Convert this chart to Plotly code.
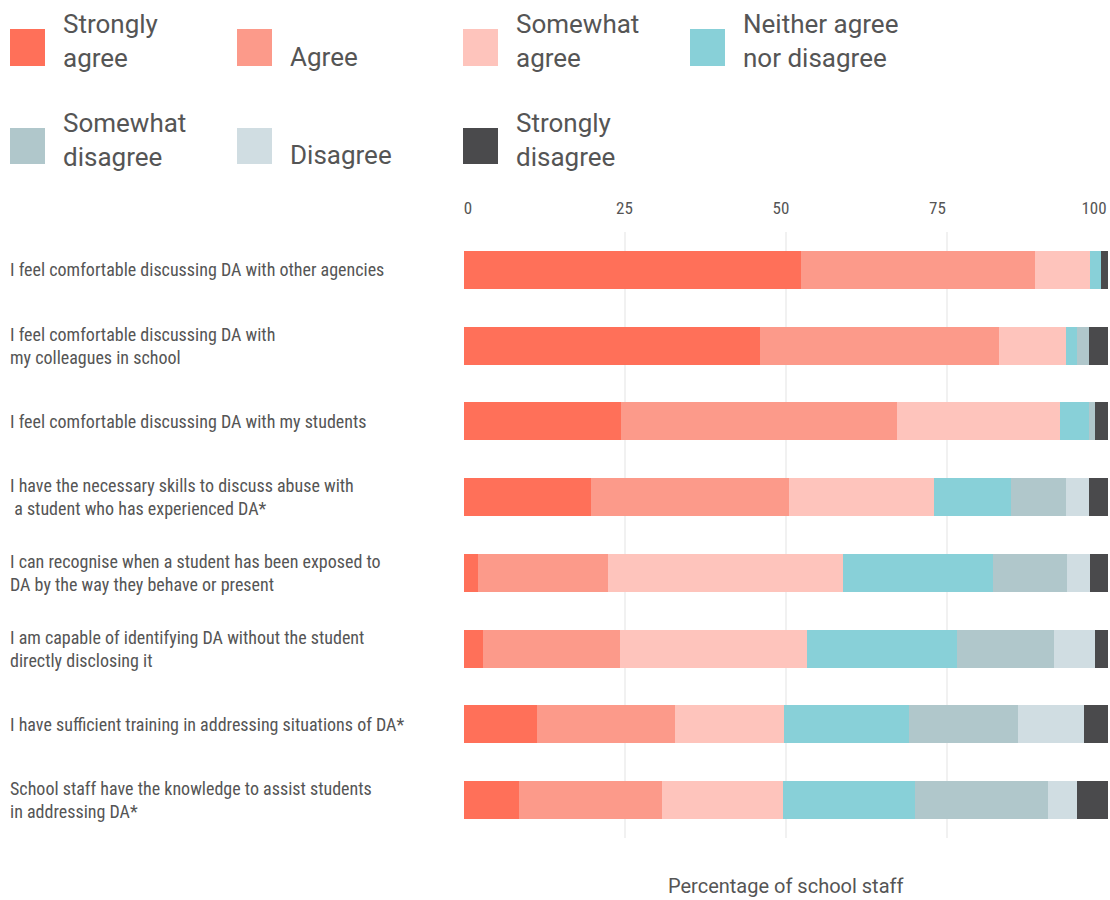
import plotly.graph_objects as go

categories = [
    "I feel comfortable discussing DA with other agencies",
    "I feel comfortable discussing DA with<br>my colleagues in school",
    "I feel comfortable discussing DA with my students",
    "I have the necessary skills to discuss abuse with<br>&nbsp;a student who has experienced DA*",
    "I can recognise when a student has been exposed to<br>DA by the way they behave or present",
    "I am capable of identifying DA without the student<br>directly disclosing it",
    "I have sufficient training in addressing situations of DA*",
    "School staff have the knowledge to assist students<br>in addressing DA*",
]

series_names = ["Strongly agree", "Agree", "Somewhat agree", "Neither agree nor disagree",
                "Somewhat disagree", "Disagree", "Strongly disagree"]
legend_labels = ["Strongly<br>agree", "Agree", "Somewhat<br>agree", "Neither agree<br>nor disagree",
                 "Somewhat<br>disagree", "Disagree", "Strongly<br>disagree"]

strongly_agree = [52.4, 45.9, 24.4, 19.7, 2.1, 3.0, 11.3, 8.6]
agree = [36.3, 37.2, 42.9, 30.8, 20.3, 21.2, 21.5, 22.2]
somewhat_agree = [8.5, 10.4, 25.3, 22.5, 36.5, 29.1, 16.9, 18.8]
neither = [1.7, 1.7, 4.5, 11.9, 23.3, 23.3, 19.4, 20.5]
somewhat_disagree = [0.0, 1.9, 0.9, 8.6, 11.4, 15.0, 17.0, 20.6]
disagree = [0.0, 0.0, 0.0, 3.6, 3.6, 6.4, 10.1, 4.5]
strongly_disagree = [1.1, 2.9, 2.0, 2.9, 2.9, 2.0, 3.8, 4.8]

series_values = [strongly_agree, agree, somewhat_agree, neither,
                 somewhat_disagree, disagree, strongly_disagree]
colors = ["#FF7059", "#FC9A8A", "#FEC4BC", "#88D0D8", "#B0C7CB", "#D0DDE2", "#4A4A4C"]

tick_vals = [0, 25, 50, 75, 100]
tick_text = ["0", "25", "50", "75", "100"]
x_title = "Percentage of school staff"

W, H = 1110, 900
L, R, T, B = 464, 2, 232, 62
PW, PH = W - L - R, H - T - B

def px(x):
    return (x - L) / PW

def py(y):
    return (H - B - y) / PH

TEXT = "#555555"
COND = "Roboto Condensed, Liberation Sans Narrow, DejaVu Sans Condensed, Arial Narrow, sans-serif"
REG = "Roboto, Noto Sans, sans-serif"

fig = go.Figure()
for name, vals, col in zip(series_names, series_values, colors):
    fig.add_trace(go.Bar(
        y=categories, x=vals, name=name, orientation="h",
        marker=dict(color=col, line=dict(width=0)), width=0.5,
        showlegend=False, hoverinfo="x+name",
    ))

# invisible trace to activate top axis for tick labels
fig.add_trace(go.Scatter(x=[0, 100], y=[categories[0], categories[0]], xaxis="x2",
                         mode="markers", marker=dict(opacity=0), showlegend=False,
                         hoverinfo="skip"))

annotations = []
shapes = []
# category labels, left-aligned
for c in categories:
    annotations.append(dict(
        x=px(8), xref="paper", y=c, yref="y", text=c, showarrow=False,
        xanchor="left", yanchor="middle", align="left",
        font=dict(family=COND, size=18, color=TEXT)))

# legend
col_x = [10, 237, 463, 690]
row_sw = [(29, 66), (128, 164)]
row_two = [41, 140]
row_one = [57, 155]
for i, (lab, col) in enumerate(zip(legend_labels, colors)):
    r, c = divmod(i, 4)
    x0 = col_x[c]
    y0, y1 = row_sw[r]
    shapes.append(dict(type="rect", xref="paper", yref="paper",
                       x0=px(x0), x1=px(x0 + 35), y0=py(y1), y1=py(y0),
                       fillcolor=col, line=dict(width=0)))
    ty = row_two[r] if "<br>" in lab else row_one[r]
    annotations.append(dict(
        x=px(x0 + 51), xref="paper", y=py(ty), yref="paper", text=lab,
        showarrow=False, xanchor="left", yanchor="middle", align="left",
        font=dict(family=REG, size=26, color=TEXT)))

annotations.append(dict(
    x=px(785), xref="paper", y=py(886), yref="paper", text=x_title, showarrow=False,
    xanchor="center", yanchor="middle",
    font=dict(family=REG, size=20, color=TEXT)))

fig.update_layout(
    width=W, height=H, margin=dict(l=L, r=R, t=T, b=B, pad=0),
    paper_bgcolor="white", plot_bgcolor="white",
    barmode="stack", bargap=0.5,
    xaxis=dict(range=[0, 100], tickvals=tick_vals, showticklabels=False,
               showgrid=True, gridcolor="#F1F1F1", gridwidth=2,
               zeroline=False, showline=False, ticks="", fixedrange=True),
    xaxis2=dict(overlaying="x", side="top", range=[-0.64, 102.24],
                tickvals=tick_vals, ticktext=tick_text, showgrid=False,
                zeroline=False, showline=False, ticks="outside", ticklen=10,
                tickcolor="rgba(0,0,0,0)",
                tickfont=dict(family=COND, size=17, color=TEXT)),
    yaxis=dict(autorange="reversed", showticklabels=False, showgrid=False,
               zeroline=False, showline=False, ticks=""),
    shapes=shapes, annotations=annotations,
    font=dict(family=REG, color=TEXT),
)

fig.write_html("out.html", config={"displayModeBar": False},
               post_script="document.body.style.margin='0';document.body.style.overflow='hidden';")
